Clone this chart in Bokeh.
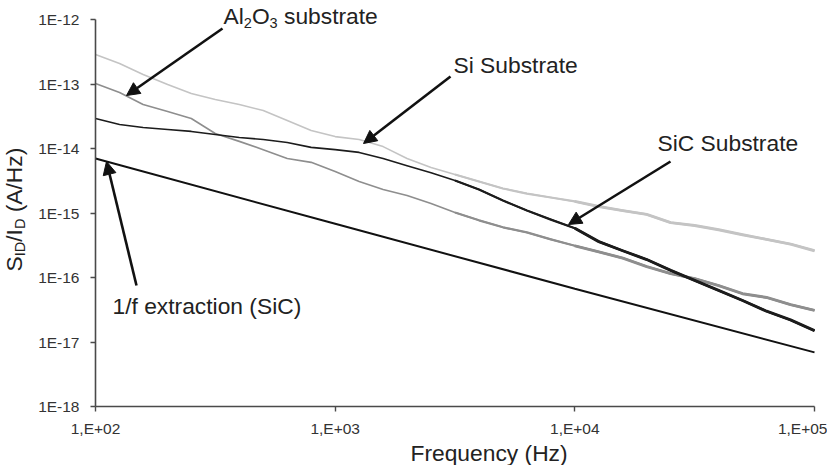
from bokeh.plotting import figure
from bokeh.models import Range1d, FixedTicker, CustomJSTickFormatter, Label, Arrow, NormalHead
from bokeh.embed import file_html
from bokeh.resources import INLINE
import math

# Noise spectral density S_ID/I_D (A/Hz) versus frequency for three substrates
freq_hz = [100, 126, 158, 200, 251, 316, 398, 501, 631, 794,
           1000, 1259, 1585, 1995, 2512, 3162, 3981, 5012, 6310, 7943,
           10000, 12589, 15849, 19953, 25119, 31623, 39811, 50119, 63096, 79433,
           100000]

si_substrate = [2.86e-13, 2.08e-13, 1.40e-13, 9.8e-14, 7.13e-14, 5.75e-14, 4.81e-14, 3.88e-14, 2.72e-14, 1.90e-14,
                1.53e-14, 1.38e-14, 1.07e-14, 7.0e-15, 5.07e-15, 3.95e-15, 3.08e-15, 2.40e-15, 2.00e-15, 1.74e-15,
                1.51e-15, 1.26e-15, 1.09e-15, 9.5e-16, 7.1e-16, 6.4e-16, 5.5e-16, 4.6e-16, 3.9e-16, 3.3e-16,
                2.6e-16]

al2o3_substrate = [1.02e-13, 7.4e-14, 4.81e-14, 3.75e-14, 2.92e-14, 1.71e-14, 1.29e-14, 9.6e-15, 7.0e-15, 6.1e-15,
                   4.4e-15, 3.08e-15, 2.31e-15, 1.87e-15, 1.40e-15, 1.02e-15, 7.7e-16, 6.0e-16, 5.0e-16, 3.9e-16,
                   3.1e-16, 2.5e-16, 2.0e-16, 1.48e-16, 1.15e-16, 9.6e-17, 7.5e-17, 5.6e-17, 4.9e-17, 3.8e-17,
                   3.1e-17]

sic_substrate = [2.92e-14, 2.36e-14, 2.12e-14, 1.97e-14, 1.84e-14, 1.65e-14, 1.48e-14, 1.38e-14, 1.24e-14, 1.04e-14,
                 9.6e-15, 8.7e-15, 7.0e-15, 5.4e-15, 4.2e-15, 3.2e-15, 2.31e-15, 1.56e-15, 1.09e-15, 7.9e-16,
                 5.8e-16, 3.6e-16, 2.6e-16, 1.90e-16, 1.29e-16, 9.0e-17, 6.3e-17, 4.4e-17, 3.0e-17, 2.2e-17,
                 1.5e-17]

# 1/f component extracted from the SiC spectrum
fit_freq_hz = [100, 1000, 10000, 100000]
fit_1f_sic = [7.0e-15, 6.8e-16, 6.7e-17, 6.9e-18]

x_ticks = [1e2, 1e3, 1e4, 1e5]
x_tick_labels = ["1,E+02", "1,E+03", "1,E+04", "1,E+05"]
y_ticks = [1e-18, 1e-17, 1e-16, 1e-15, 1e-14, 1e-13, 1e-12]
y_tick_labels = ["1E-18", "1E-17", "1E-16", "1E-15", "1E-14", "1E-13", "1E-12"]

FONT = "Liberation Sans"
W, H = 827, 465
# canvas pixels where the axis extents sit; the frame fills the whole canvas
AX_LEFT, AX_RIGHT, AX_TOP, AX_BOTTOM = 95, 814, 19, 406
x_lo, x_hi = math.log10(x_ticks[0]), math.log10(x_ticks[-1])
y_lo, y_hi = math.log10(y_ticks[0]), math.log10(y_ticks[-1])
px_per_dec_x = (AX_RIGHT - AX_LEFT) / (x_hi - x_lo)
px_per_dec_y = (AX_BOTTOM - AX_TOP) / (y_hi - y_lo)
x_view = Range1d(10 ** (x_lo - AX_LEFT / px_per_dec_x), 10 ** (x_hi + (W - AX_RIGHT) / px_per_dec_x))
y_view = Range1d(10 ** (y_lo - (H - AX_BOTTOM) / px_per_dec_y), 10 ** (y_hi + AX_TOP / px_per_dec_y))

p = figure(width=W, height=H, x_axis_type="log", y_axis_type="log",
           x_range=x_view, y_range=y_view, title=None,
           output_backend="svg", toolbar_location=None,
           min_border=0, min_border_left=0, min_border_right=0,
           min_border_top=0, min_border_bottom=0)
p.outline_line_color = None
p.grid.visible = False
p.background_fill_color = "white"
p.border_fill_color = "white"

label_js = """
const i = tvals.findIndex(t => Math.abs(Math.log10(t) - Math.log10(tick)) < 1e-6);
return i >= 0 ? tlabels[i] : "";
"""
p.xaxis.ticker = FixedTicker(ticks=x_ticks)
p.xaxis.formatter = CustomJSTickFormatter(args=dict(tvals=x_ticks, tlabels=x_tick_labels), code=label_js)
p.xaxis.fixed_location = y_ticks[0]
p.xaxis.bounds = (x_ticks[0], x_ticks[-1])
p.yaxis.ticker = FixedTicker(ticks=y_ticks)
p.yaxis.formatter = CustomJSTickFormatter(args=dict(tvals=y_ticks, tlabels=y_tick_labels), code=label_js)
p.yaxis.fixed_location = x_ticks[0]
p.yaxis.bounds = (y_ticks[0], y_ticks[-1])

for ax in (p.xaxis, p.yaxis):
    ax.axis_line_color = "#4a4a4a"
    ax.axis_line_width = 1.6
    ax.major_tick_line_color = "#4a4a4a"
    ax.major_tick_line_width = 1.4
    ax.major_tick_out = 5
    ax.major_tick_in = 0
    ax.minor_tick_line_color = None
    ax.major_label_text_font = FONT
    ax.major_label_text_font_size = "15.5px"
    ax.major_label_text_color = "#333333"
p.xaxis.major_label_standoff = 8
p.yaxis.major_label_standoff = 11

# measured spectra; toward high frequency the traces become a denser, thicker band
MID = freq_hz.index(3162)
HF = freq_hz.index(10000)
series = [
    (si_substrate, "#c4c4c4"),
    (al2o3_substrate, "#8e8e8e"),
    (sic_substrate, "#1c1c1c"),
]
for values, color in series:
    p.line(freq_hz, values, line_color=color, line_width=1.6, line_join="round")
    p.line(freq_hz[MID:], values[MID:], line_color=color, line_width=2.2, line_join="round")
    p.line(freq_hz[HF:], values[HF:], line_color=color, line_width=2.9, line_join="round")
p.line(fit_freq_hz, fit_1f_sic, line_color="#111111", line_width=2.0)

TXT = 22.8
SUB = 14.5
DROP = 0.35  # baseline correction, as a fraction of the font size


def text_at(s, X, Y, size=TXT, angle=0.0):
    """Place text with its baseline start at canvas pixel (X, Y)."""
    d = DROP * size
    dx, dy = (-d, 0.0) if angle else (0.0, -d)
    p.add_layout(Label(x=X + dx, y=H - (Y + dy), x_units="screen", y_units="screen",
                       text=s, text_font=FONT, text_font_size=f"{size}px", text_color="#222222",
                       text_align="left", text_baseline="alphabetic", angle=angle))


def arrow(x0, y0, x1, y1):
    p.add_layout(Arrow(x_start=x0, y_start=H - y0, x_end=x1, y_end=H - y1,
                       start_units="screen", end_units="screen",
                       line_color="#111111", line_width=2.6,
                       end=NormalHead(size=13, fill_color="#111111", line_color="#111111", line_width=1)))


# Al2O3 substrate with subscripts
text_at("Al", 223, 23)
text_at("2", 243.3, 28, size=SUB)
text_at("O", 251.4, 23)
text_at("3", 269.1, 28, size=SUB)
text_at("substrate", 283.5, 23)
arrow(222, 28, 126, 95)

text_at("Si Substrate", 453, 72)
arrow(450, 76, 363, 143)

text_at("SiC Substrate", 657, 150)
arrow(670, 161, 568, 224)

text_at("1/f extraction (SiC)", 112, 313)
arrow(136, 285, 106, 161)

# Axis titles
text_at("Frequency (Hz)", 410, 460)
up = math.pi / 2
text_at("S", 21, 271, angle=up)
text_at("ID", 25, 255.8, size=SUB, angle=up)
text_at("/I", 21, 241.3, angle=up)
text_at("D", 25, 228.6, size=SUB, angle=up)
text_at("(A/Hz)", 21, 211.8, angle=up)

open("out.html", "w").write(file_html(p, INLINE))
